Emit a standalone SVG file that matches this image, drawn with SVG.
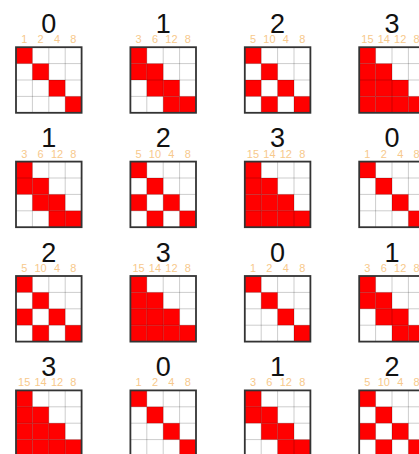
<svg xmlns="http://www.w3.org/2000/svg" xmlns:xlink="http://www.w3.org/1999/xlink" width="419" height="454" viewBox="0 0 419 454">
<style>
.bg{fill:#fff}
.r{fill:#ff0000}
.gl{fill:none;stroke:#000;stroke-opacity:0.2;stroke-width:1}
.bd{fill:none;stroke:#333;stroke-width:1.8}
.t{font-family:"Liberation Sans",Arial,sans-serif;font-size:27px;fill:#111;text-anchor:middle}
.l{font-family:"Liberation Sans",Arial,sans-serif;font-size:11px;fill:#f7c98c;text-anchor:middle}
</style>
<defs>
<rect id="c" width="16.4" height="16.4" class="r"/>
<g id="grid"><path class="gl" d="M16.4 0V65.6M32.8 0V65.6M49.2 0V65.6M0 16.4H65.6M0 32.8H65.6M0 49.2H65.6"/><rect class="bd" width="65.6" height="65.6"/></g>
<g id="f0"><rect class="bg" width="65.6" height="65.6"/><use xlink:href="#c"/><use xlink:href="#c" x="16.4" y="16.4"/><use xlink:href="#c" x="32.8" y="32.8"/><use xlink:href="#c" x="49.2" y="49.2"/><use xlink:href="#grid"/></g>
<g id="f1"><rect class="bg" width="65.6" height="65.6"/><use xlink:href="#c"/><use xlink:href="#c" y="16.4"/><use xlink:href="#c" x="16.4" y="16.4"/><use xlink:href="#c" x="16.4" y="32.8"/><use xlink:href="#c" x="32.8" y="32.8"/><use xlink:href="#c" x="32.8" y="49.2"/><use xlink:href="#c" x="49.2" y="49.2"/><use xlink:href="#grid"/></g>
<g id="f2"><rect class="bg" width="65.6" height="65.6"/><use xlink:href="#c"/><use xlink:href="#c" y="32.8"/><use xlink:href="#c" x="16.4" y="16.4"/><use xlink:href="#c" x="16.4" y="49.2"/><use xlink:href="#c" x="32.8" y="32.8"/><use xlink:href="#c" x="49.2" y="49.2"/><use xlink:href="#grid"/></g>
<g id="f3"><rect class="bg" width="65.6" height="65.6"/><use xlink:href="#c"/><use xlink:href="#c" y="16.4"/><use xlink:href="#c" y="32.8"/><use xlink:href="#c" y="49.2"/><use xlink:href="#c" x="16.4" y="16.4"/><use xlink:href="#c" x="16.4" y="32.8"/><use xlink:href="#c" x="16.4" y="49.2"/><use xlink:href="#c" x="32.8" y="32.8"/><use xlink:href="#c" x="32.8" y="49.2"/><use xlink:href="#c" x="49.2" y="49.2"/><use xlink:href="#grid"/></g>
</defs>
<rect width="419" height="454" fill="#fff"/>
<g id="connectors"/>

<g id="m-r0c0" transform="translate(16,47.2)"><use xlink:href="#f0"/><text class="t" x="32.8" y="-14.5">0</text><text class="l" x="8.2" y="-4">1</text><text class="l" x="24.6" y="-4">2</text><text class="l" x="41" y="-4">4</text><text class="l" x="57.4" y="-4">8</text></g>
<g id="m-r0c1" transform="translate(130.4,47.2)"><use xlink:href="#f1"/><text class="t" x="32.8" y="-14.5">1</text><text class="l" x="8.2" y="-4">3</text><text class="l" x="24.6" y="-4">6</text><text class="l" x="41" y="-4">12</text><text class="l" x="57.4" y="-4">8</text></g>
<g id="m-r0c2" transform="translate(244.8,47.2)"><use xlink:href="#f2"/><text class="t" x="32.8" y="-14.5">2</text><text class="l" x="8.2" y="-4">5</text><text class="l" x="24.6" y="-4">10</text><text class="l" x="41" y="-4">4</text><text class="l" x="57.4" y="-4">8</text></g>
<g id="m-r0c3" transform="translate(359.2,47.2)"><use xlink:href="#f3"/><text class="t" x="32.8" y="-14.5">3</text><text class="l" x="8.2" y="-4">15</text><text class="l" x="24.6" y="-4">14</text><text class="l" x="41" y="-4">12</text><text class="l" x="57.4" y="-4">8</text></g>

<g id="m-r1c0" transform="translate(16,161.6)"><use xlink:href="#f1"/><text class="t" x="32.8" y="-14.5">1</text><text class="l" x="8.2" y="-4">3</text><text class="l" x="24.6" y="-4">6</text><text class="l" x="41" y="-4">12</text><text class="l" x="57.4" y="-4">8</text></g>
<g id="m-r1c1" transform="translate(130.4,161.6)"><use xlink:href="#f2"/><text class="t" x="32.8" y="-14.5">2</text><text class="l" x="8.2" y="-4">5</text><text class="l" x="24.6" y="-4">10</text><text class="l" x="41" y="-4">4</text><text class="l" x="57.4" y="-4">8</text></g>
<g id="m-r1c2" transform="translate(244.8,161.6)"><use xlink:href="#f3"/><text class="t" x="32.8" y="-14.5">3</text><text class="l" x="8.2" y="-4">15</text><text class="l" x="24.6" y="-4">14</text><text class="l" x="41" y="-4">12</text><text class="l" x="57.4" y="-4">8</text></g>
<g id="m-r1c3" transform="translate(359.2,161.6)"><use xlink:href="#f0"/><text class="t" x="32.8" y="-14.5">0</text><text class="l" x="8.2" y="-4">1</text><text class="l" x="24.6" y="-4">2</text><text class="l" x="41" y="-4">4</text><text class="l" x="57.4" y="-4">8</text></g>

<g id="m-r2c0" transform="translate(16,276)"><use xlink:href="#f2"/><text class="t" x="32.8" y="-14.5">2</text><text class="l" x="8.2" y="-4">5</text><text class="l" x="24.6" y="-4">10</text><text class="l" x="41" y="-4">4</text><text class="l" x="57.4" y="-4">8</text></g>
<g id="m-r2c1" transform="translate(130.4,276)"><use xlink:href="#f3"/><text class="t" x="32.8" y="-14.5">3</text><text class="l" x="8.2" y="-4">15</text><text class="l" x="24.6" y="-4">14</text><text class="l" x="41" y="-4">12</text><text class="l" x="57.4" y="-4">8</text></g>
<g id="m-r2c2" transform="translate(244.8,276)"><use xlink:href="#f0"/><text class="t" x="32.8" y="-14.5">0</text><text class="l" x="8.2" y="-4">1</text><text class="l" x="24.6" y="-4">2</text><text class="l" x="41" y="-4">4</text><text class="l" x="57.4" y="-4">8</text></g>
<g id="m-r2c3" transform="translate(359.2,276)"><use xlink:href="#f1"/><text class="t" x="32.8" y="-14.5">1</text><text class="l" x="8.2" y="-4">3</text><text class="l" x="24.6" y="-4">6</text><text class="l" x="41" y="-4">12</text><text class="l" x="57.4" y="-4">8</text></g>

<g id="m-r3c0" transform="translate(16,390.4)"><use xlink:href="#f3"/><text class="t" x="32.8" y="-14.5">3</text><text class="l" x="8.2" y="-4">15</text><text class="l" x="24.6" y="-4">14</text><text class="l" x="41" y="-4">12</text><text class="l" x="57.4" y="-4">8</text></g>
<g id="m-r3c1" transform="translate(130.4,390.4)"><use xlink:href="#f0"/><text class="t" x="32.8" y="-14.5">0</text><text class="l" x="8.2" y="-4">1</text><text class="l" x="24.6" y="-4">2</text><text class="l" x="41" y="-4">4</text><text class="l" x="57.4" y="-4">8</text></g>
<g id="m-r3c2" transform="translate(244.8,390.4)"><use xlink:href="#f1"/><text class="t" x="32.8" y="-14.5">1</text><text class="l" x="8.2" y="-4">3</text><text class="l" x="24.6" y="-4">6</text><text class="l" x="41" y="-4">12</text><text class="l" x="57.4" y="-4">8</text></g>
<g id="m-r3c3" transform="translate(359.2,390.4)"><use xlink:href="#f2"/><text class="t" x="32.8" y="-14.5">2</text><text class="l" x="8.2" y="-4">5</text><text class="l" x="24.6" y="-4">10</text><text class="l" x="41" y="-4">4</text><text class="l" x="57.4" y="-4">8</text></g>
</svg>
